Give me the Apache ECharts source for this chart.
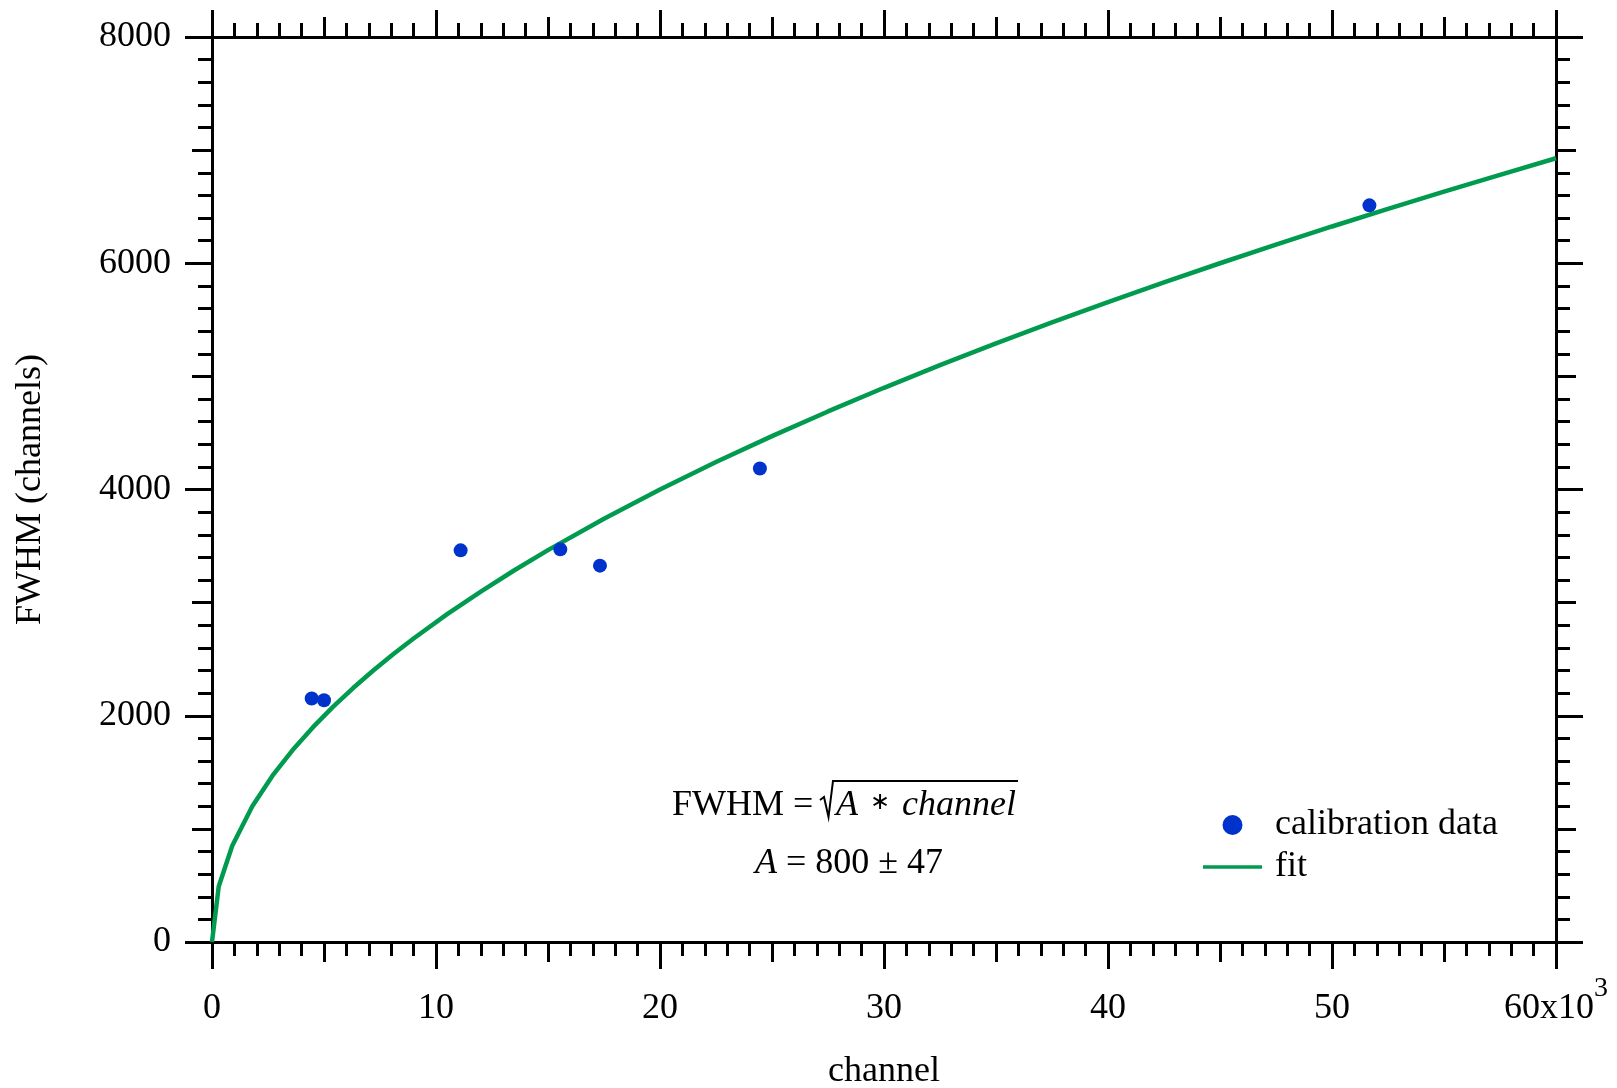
<!DOCTYPE html>
<html>
<head>
<meta charset="utf-8">
<script src="https://cdn.jsdelivr.net/npm/echarts@6/dist/echarts.min.js"></script>
<style>
html,body{margin:0;padding:0;background:#fff;}
#chart{width:1617px;height:1088px;}
</style>
</head>
<body>
<div id="chart"></div>
<script>
// ---- data ----
var calX = [4450, 5000, 11100, 15550, 17320, 24460, 51670];
var calY = [2152, 2137, 3462, 3471, 3327, 4186, 6512];

var fitX = [0, 300, 900, 1800, 2700, 3600, 4500, 5400, 6300, 7200, 8100, 9000, 10500, 12000, 13500, 15000, 17500, 20000, 22500, 25000, 27500, 30000, 32500, 35000, 37500, 40000, 42500, 45000, 47500, 50000, 52500, 55000, 57500, 60000];
var fitY = [0, 490, 849, 1200, 1470, 1697, 1897, 2078, 2245, 2400, 2546, 2683, 2898, 3098, 3286, 3464, 3742, 4000, 4243, 4472, 4690, 4899, 5099, 5292, 5477, 5657, 5831, 6000, 6164, 6325, 6481, 6633, 6782, 6928];

var xTickLabels = ['0', '10', '20', '30', '40', '50', '60x10{sup|3}'];
var yTickLabels = ['0', '2000', '4000', '6000', '8000'];

var seriesNames = ['calibration data', 'fit'];
var eqLine1 = 'FWHM =';
var eqLine1b = ['A', '∗', 'channel'];
var eqLine2 = ['A', ' = 800 ± 47'];

// ---- chart ----
var FONT = '"Liberation Serif", "Times New Roman", Times, serif';
var BLACK = '#000';
var GREEN = '#009B4E';
var BLUE = '#0033CC';

function pairs(xs, ys) { return xs.map(function (x, i) { return [x, ys[i]]; }); }

function baseAxis(extra) {
  var a = {
    type: 'value',
    splitLine: { show: false },
    minorSplitLine: { show: false },
    axisLine: { show: true, onZero: false, lineStyle: { color: BLACK, width: 3 } },
    axisTick: { show: true, lineStyle: { color: BLACK, width: 3 } },
    minorTick: { show: false },
    axisLabel: { show: false }
  };
  for (var k in extra) a[k] = extra[k];
  return a;
}

var xCommon = { min: 0, max: 60000 };
var yCommon = { min: 0, max: 8000 };

var xAxes = [
  baseAxis(Object.assign({}, xCommon, {
    position: 'bottom', interval: 10000,
    name: 'channel', nameLocation: 'middle', nameGap: 112, nameMoveOverlap: false,
    nameTextStyle: { fontFamily: FONT, fontSize: 36, color: BLACK },
    axisTick: { show: true, length: 27, lineStyle: { color: BLACK, width: 3 } },
    minorTick: { show: true, splitNumber: 10, length: 14, lineStyle: { color: BLACK, width: 3 } },
    axisLabel: {
      show: true, margin: 33, fontFamily: FONT, fontSize: 36, color: BLACK, lineHeight: 67,
      formatter: function (v) { return xTickLabels[Math.round(v / 10000)]; },
      rich: { sup: { fontFamily: FONT, fontSize: 28, color: BLACK, padding: [0, 0, 39, 0] } }
    }
  })),
  baseAxis(Object.assign({}, xCommon, {
    position: 'bottom', interval: 5000,
    axisLine: { show: false, onZero: false },
    axisTick: { show: true, length: 20, lineStyle: { color: BLACK, width: 3 } }
  })),
  baseAxis(Object.assign({}, xCommon, {
    position: 'top', interval: 10000,
    axisTick: { show: true, length: 27, lineStyle: { color: BLACK, width: 3 } },
    minorTick: { show: true, splitNumber: 10, length: 14, lineStyle: { color: BLACK, width: 3 } }
  })),
  baseAxis(Object.assign({}, xCommon, {
    position: 'top', interval: 5000,
    axisLine: { show: false, onZero: false },
    axisTick: { show: true, length: 20, lineStyle: { color: BLACK, width: 3 } }
  }))
];

var yAxes = [
  baseAxis(Object.assign({}, yCommon, {
    position: 'left', interval: 2000,
    name: 'FWHM (channels)', nameLocation: 'middle', nameGap: 163, nameMoveOverlap: false,
    nameTextStyle: { fontFamily: FONT, fontSize: 36, color: BLACK },
    axisTick: { show: true, length: 27, lineStyle: { color: BLACK, width: 3 } },
    minorTick: { show: true, splitNumber: 10, length: 14, lineStyle: { color: BLACK, width: 3 } },
    axisLabel: {
      show: true, margin: 41, fontFamily: FONT, fontSize: 36, color: BLACK, padding: [12, 0, 0, 0],
      formatter: function (v) { return yTickLabels[Math.round(v / 2000)]; }
    }
  })),
  baseAxis(Object.assign({}, yCommon, {
    position: 'left', interval: 1000,
    axisLine: { show: false, onZero: false },
    axisTick: { show: true, length: 20, lineStyle: { color: BLACK, width: 3 } }
  })),
  baseAxis(Object.assign({}, yCommon, {
    position: 'right', interval: 2000,
    axisTick: { show: true, length: 27, lineStyle: { color: BLACK, width: 3 } },
    minorTick: { show: true, splitNumber: 10, length: 14, lineStyle: { color: BLACK, width: 3 } }
  })),
  baseAxis(Object.assign({}, yCommon, {
    position: 'right', interval: 1000,
    axisLine: { show: false, onZero: false },
    axisTick: { show: true, length: 20, lineStyle: { color: BLACK, width: 3 } }
  }))
];

var chart = echarts.init(document.getElementById('chart'), null, { renderer: 'canvas' });
chart.setOption({
  backgroundColor: '#fff',
  animation: false,
  textStyle: { fontFamily: FONT },
  grid: { left: 212, right: 61, top: 37, bottom: 146, containLabel: false, outerBoundsMode: 'none' },
  xAxis: xAxes,
  yAxis: yAxes,
  legend: {
    orient: 'vertical', left: 1198, top: 802,
    itemWidth: 59, itemHeight: 20, itemGap: 6,
    data: [
      { name: seriesNames[0], icon: 'circle' },
      { name: seriesNames[1], icon: 'path://M0,0 L59,0 L59,3.5 L0,3.5 Z' }
    ],
    textStyle: { fontFamily: FONT, fontSize: 36, color: BLACK, padding: [0, 0, 0, 8] }
  },
  series: [
    {
      name: seriesNames[1], type: 'line', xAxisIndex: 0, yAxisIndex: 0,
      data: pairs(fitX, fitY), showSymbol: false, symbol: 'none', smooth: false,
      lineStyle: { color: GREEN, width: 4.5 }, itemStyle: { color: GREEN }, z: 2
    },
    {
      name: seriesNames[0], type: 'scatter', xAxisIndex: 0, yAxisIndex: 0,
      data: pairs(calX, calY), symbol: 'circle', symbolSize: 14,
      itemStyle: { color: BLUE, opacity: 1 }, z: 3
    }
  ],
  graphic: [
    { type: 'text', left: 672, top: 788, style: { text: eqLine1, font: '36px ' + FONT, fill: BLACK } },
    { type: 'polyline', shape: { points: [[820, 800], [824, 797], [828.5, 817], [833, 781], [1018, 781]] },
      style: { stroke: BLACK, lineWidth: 2, fill: null } },
    { type: 'text', left: 836, top: 788, style: {
        text: '{i|' + eqLine1b[0] + '}{s| ' + eqLine1b[1] + ' }{i|' + eqLine1b[2] + '}',
        rich: {
          i: { font: 'italic 36px ' + FONT, fill: BLACK },
          s: { font: '24px ' + FONT, fill: BLACK, padding: [0, 6, 6, 6] }
        }
      } },
    { type: 'text', left: 755, top: 846, style: {
        text: '{i|' + eqLine2[0] + '}{n|' + eqLine2[1] + '}',
        rich: { i: { font: 'italic 36px ' + FONT, fill: BLACK }, n: { font: '36px ' + FONT, fill: BLACK } }
      } }
  ]
});
</script>
</body>
</html>
